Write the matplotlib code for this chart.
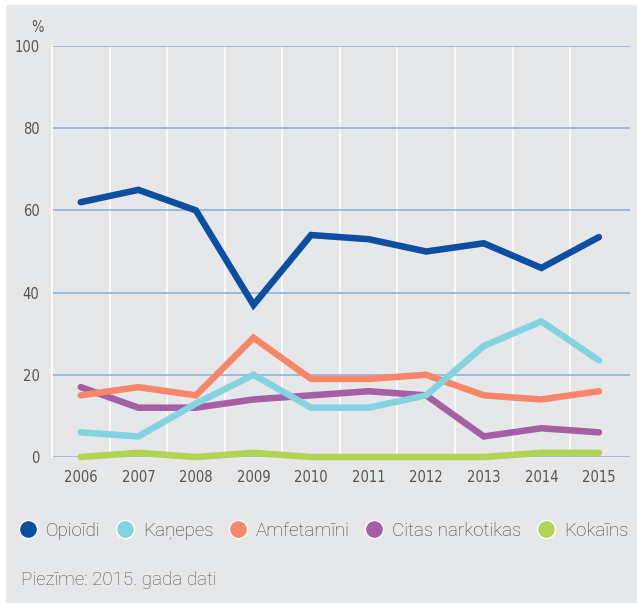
import matplotlib
matplotlib.use('Agg')
import matplotlib.pyplot as plt
from matplotlib.patches import Rectangle
from matplotlib.lines import Line2D

# data
years = [2006, 2007, 2008, 2009, 2010, 2011, 2012, 2013, 2014, 2015]
opioidi = [62, 65, 60, 37, 54, 53, 50, 52, 46, 53.5]
kanepes = [6, 5, 13, 20, 12, 12, 15, 27, 33, 23.5]
amfetamini = [15, 17, 15, 29, 19, 19, 20, 15, 14, 16]
citas = [17, 12, 12, 14, 15, 16, 15, 5, 7, 6]
kokains = [0, 1, 0, 1, 0, 0, 0, 0, 1, 1]

labels = ['Opioīdi', 'Kaņepes', 'Amfetamīni', 'Citas narkotikas', 'Kokaīns']
colors = ['#0b4ea2', '#83d3e0', '#f7866a', '#a65ea5', '#b1d453']
yticks = [0, 20, 40, 60, 80, 100]

bg = '#e6e7e9'
tick_font = ['DejaVu Sans']
text_font = ['Roboto', 'DejaVu Sans']

fig = plt.figure(figsize=(6.37, 6.03), dpi=100, facecolor='white')
fig.patches.append(Rectangle((6/637, 0), 1 - 6/637, 598/603, transform=fig.transFigure,
                             facecolor=bg, edgecolor='none', zorder=-5))

ax = fig.add_axes([52/637, 1 - 457/603, 578/637, 411/603])
ax.patch.set_alpha(0)

series = [opioidi, kanepes, amfetamini, citas, kokains]
# draw back to front so the blue line is on top
for vals, col in list(zip(series, colors))[::-1]:
    ax.plot(years, vals, color=col, lw=4.7, solid_capstyle='round',
            solid_joinstyle='miter', clip_on=False, zorder=3)

ax.set_xlim(2005.5, 2015.54)
ax.set_ylim(0, 100)
ax.set_xticks(years)
ax.set_yticks(yticks)
ax.set_xticks([y + 0.5 for y in years[:-1]], minor=True)
ax.grid(axis='y', which='major', color='#8fb3e0', lw=1.2, zorder=1)
ax.grid(axis='x', which='minor', color='white', lw=1.2, zorder=1)
ax.grid(axis='x', which='major', visible=False)
ax.set_axisbelow(True)
for s in ['top', 'right', 'bottom']:
    ax.spines[s].set_visible(False)
ax.spines['left'].set_color('white')
ax.spines['left'].set_linewidth(1.2)
ax.tick_params(axis='both', which='both', length=0, colors='#555555')
ax.tick_params(axis='x', pad=9)
ax.tick_params(axis='y', pad=9)
for t in ax.get_xticklabels() + ax.get_yticklabels():
    t.set_family(tick_font)
    t.set_fontsize(10.5)
    t.set_fontstretch('condensed')

fig.text(37/637, 1 - 28/603, '%', family=tick_font, fontsize=10.5, fontstretch='condensed',
         color='#555555', ha='center', va='center')

handles = [Line2D([], [], marker='o', ls='none', markersize=13, markerfacecolor=c,
                  markeredgecolor='white', markeredgewidth=1) for c in colors]
fig.legend(handles, labels, loc='center left', bbox_to_anchor=(11/637, 1 - 531/603),
           ncol=5, frameon=False, handletextpad=0.45, columnspacing=0.82,
           borderaxespad=0, handlelength=1.0,
           prop={'family': text_font, 'size': 13.5, 'weight': 'light'},
           labelcolor='#3f3f3f')

fig.text(21/637, 1 - 580/603, 'Piezīme: 2015. gada dati', family=text_font,
         fontsize=13.5, weight='light', color='#555555', ha='left', va='center')

fig.savefig('out.png', dpi=100, facecolor='white')
